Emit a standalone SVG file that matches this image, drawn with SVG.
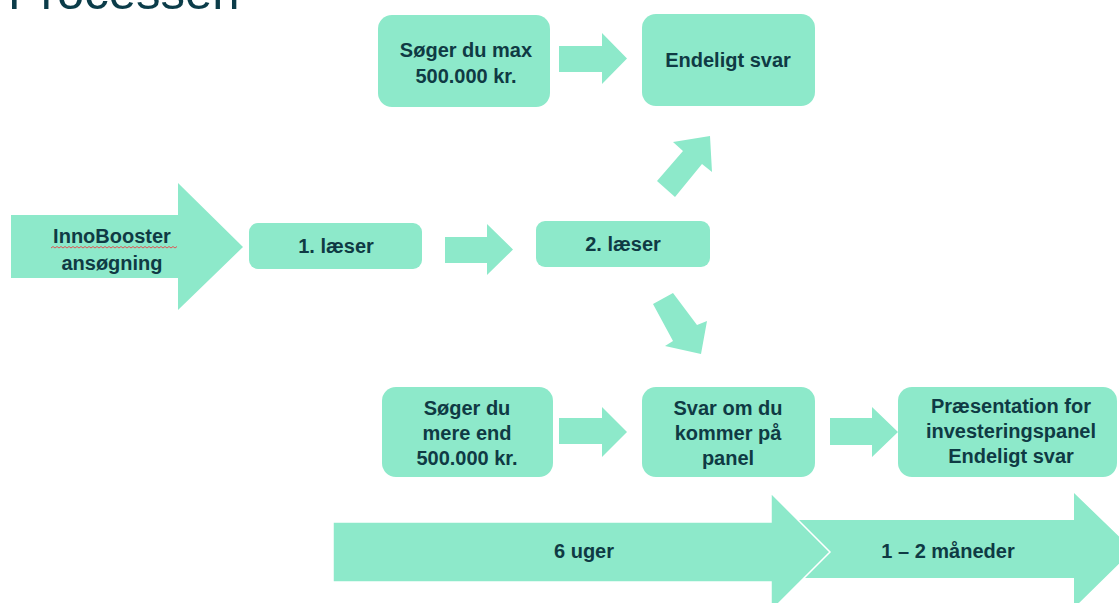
<svg xmlns="http://www.w3.org/2000/svg" width="1119" height="603" viewBox="0 0 1119 603">
<style>
.s{fill:#8DE9CA}
.t{font-family:"Liberation Sans",Arial,sans-serif;font-weight:bold;font-size:20px;fill:#0F3A44;text-anchor:middle}
.title{font-family:"Liberation Sans",Arial,sans-serif;font-size:49px;fill:#0B3C49}
</style>
<rect width="1119" height="603" fill="#ffffff"/>
<text class="title" x="8" y="9">Processen</text>

<g id="connectors">
<polygon class="s" points="559,46 602,46 602,33 627,58.5 602,84 602,72 559,72"/>
<polygon class="s" points="445,237 487,237 487,224 513,249.5 487,275 487,263 445,263"/>
<polygon class="s" points="559,418 602,418 602,407 627,432 602,457 602,444 559,444"/>
<polygon class="s" points="830,418 872,418 872,407 898,432 872,457 872,445 830,445"/>
<polygon class="s" points="657,181 683,151 673,142 710,136 712,172 702,164 675,197"/>
<polygon class="s" points="653,304 673,293 697,325 707,321 701,354 665,346 673,341"/>
</g>

<g id="n-innobooster">
<polygon class="s" points="11,215 178,215 178,183 243,247 178,310 178,278 11,278"/>
<text class="t"><tspan x="112" y="243">InnoBooster</tspan><tspan x="112" y="270">ansøgning</tspan></text>
<path d="M51,248 l2,-1.5 l2,1.5 l2,-1.5 l2,1.5 l2,-1.5 l2,1.5 l2,-1.5 l2,1.5 l2,-1.5 l2,1.5 l2,-1.5 l2,1.5 l2,-1.5 l2,1.5 l2,-1.5 l2,1.5 l2,-1.5 l2,1.5 l2,-1.5 l2,1.5 l2,-1.5 l2,1.5 l2,-1.5 l2,1.5 l2,-1.5 l2,1.5 l2,-1.5 l2,1.5 l2,-1.5 l2,1.5 l2,-1.5 l2,1.5 l2,-1.5 l2,1.5 l2,-1.5 l2,1.5 l2,-1.5 l2,1.5 l2,-1.5 l2,1.5 l2,-1.5 l2,1.5 l2,-1.5 l2,1.5 l2,-1.5 l2,1.5 l2,-1.5 l2,1.5 l2,-1.5 l2,1.5 l2,-1.5 l2,1.5 l2,-1.5 l2,1.5 l2,-1.5 l2,1.5 l2,-1.5 l2,1.5 l2,-1.5 l2,1.5 l2,-1.5 l2,1.5 l2,-1.5" fill="none" stroke="#E05555" stroke-width="1"/>
</g>

<g id="n-laeser1">
<rect class="s" x="249" y="223" width="173" height="46" rx="9"/>
<text class="t" x="336" y="253">1. læser</text>
</g>

<g id="n-laeser2">
<rect class="s" x="536" y="221" width="174" height="46" rx="9"/>
<text class="t" x="623" y="251">2. læser</text>
</g>

<g id="n-max">
<rect class="s" x="378" y="15" width="172" height="92" rx="14"/>
<text class="t"><tspan x="466" y="57">Søger du max</tspan><tspan x="466" y="83">500.000 kr.</tspan></text>
</g>

<g id="n-endeligt">
<rect class="s" x="642" y="14" width="173" height="92" rx="14"/>
<text class="t" x="728" y="67">Endeligt svar</text>
</g>

<g id="n-mere">
<rect class="s" x="382" y="387" width="171" height="90" rx="14"/>
<text class="t"><tspan x="467" y="415">Søger du</tspan><tspan x="467" y="440">mere end</tspan><tspan x="467" y="465">500.000 kr.</tspan></text>
</g>

<g id="n-svar">
<rect class="s" x="642" y="387" width="173" height="90" rx="14"/>
<text class="t"><tspan x="728" y="415">Svar om du</tspan><tspan x="728" y="440">kommer på</tspan><tspan x="728" y="465">panel</tspan></text>
</g>

<g id="n-praesentation">
<rect class="s" x="898" y="387" width="219" height="90" rx="14"/>
<text class="t"><tspan x="1011" y="413">Præsentation for</tspan><tspan x="1011" y="438">investeringspanel</tspan><tspan x="1011" y="463">Endeligt svar</tspan></text>
</g>

<g id="n-maaneder">
<polygon class="s" points="790,520 1074,520 1074,493 1133,550 1074,608 1074,578 790,578"/>
<text class="t" x="948" y="558">1 – 2 måneder</text>
</g>

<g id="n-uger">
<polygon class="s" points="333,522 771,522 771,493 830,552 771,611 771,582 333,582" stroke="#ffffff" stroke-width="1.5"/>
<text class="t" x="584" y="558">6 uger</text>
</g>
</svg>
